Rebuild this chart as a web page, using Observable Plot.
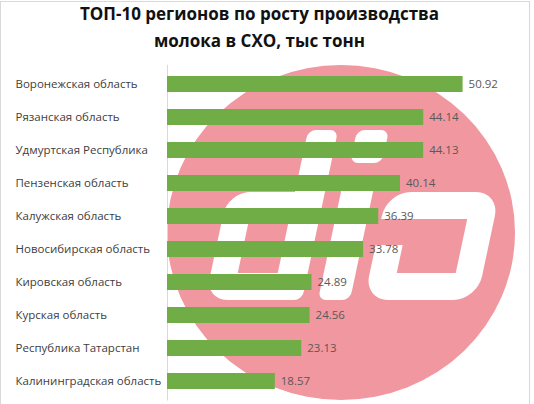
<!DOCTYPE html>
<html><head><meta charset="utf-8">
<script src="https://cdn.jsdelivr.net/npm/d3@7"></script>
<script src="https://cdn.jsdelivr.net/npm/@observablehq/plot@0.6"></script>
<style>
  html,body{margin:0;padding:0;background:#fff;width:534px;height:404px;overflow:hidden;}
  #frame{position:absolute;left:0;top:1px;width:528px;height:420px;border:1px solid #D9D9D9;box-sizing:content-box;}
  #wm{position:absolute;left:167px;top:65px;width:348px;height:335px;border-radius:50%;background:#F1979F;overflow:hidden;}
  .g{position:absolute;transform:skewX(-12deg);transform-origin:0 100%;box-sizing:border-box;}
  .solid{background:#fff;border-radius:8px;}
  .ring{border:27px solid #fff;border-radius:22px;}
  #notch{position:absolute;left:-28px;top:0;width:30px;height:26px;background:#F1979F;}
  #title{position:absolute;left:0;top:0;width:519px;text-align:center;font-family:"Open Sans",sans-serif;font-weight:bold;font-size:17px;line-height:27px;padding-top:0px;color:#111;}
  #chart{position:absolute;left:0;top:56px;}
  #chart svg{max-width:none;}
</style></head>
<body>
<div id="frame"></div>
<div id="wm">
  <div class="g ring" style="left:38px;top:127px;width:95px;height:108px;"></div>
  <div class="g solid" style="left:105px;top:65px;width:30px;height:170px;"></div>
  <div class="g solid" style="left:183px;top:65px;width:32px;height:33px;"></div>
  <div class="g solid" style="left:151px;top:117px;width:32px;height:118px;"></div>
  <div class="g ring" style="left:197px;top:127px;width:113px;height:108px;border-radius:24px;"><div id="notch"></div></div>
</div>
<div id="title">ТОП-10 регионов по росту производства<br>молока в СХО, тыс тонн</div>
<div id="chart"></div>
<script>
const regions = ["Воронежская область","Рязанская область","Удмуртская Республика","Пензенская область","Калужская область","Новосибирская область","Кировская область","Курская область","Республика Татарстан","Калининградская область"];
const values = [50.92,44.14,44.13,40.14,36.39,33.78,24.89,24.56,23.13,18.57];
const data = regions.map((r,i)=>({region:r, value:values[i]}));

const plot = Plot.plot({
  width: 534,
  height: 348,
  marginLeft: 167,
  marginRight: 18.7,
  marginTop: 8.9,
  marginBottom: 3.5,
  style: {background: "transparent", fontFamily: "'Open Sans', sans-serif"},
  x: {domain: [0, 60], axis: null},
  y: {domain: regions, paddingInner: 0.523, paddingOuter: 0.2616, label: null},
  marks: [
    Plot.ruleX([0], {stroke: "#D9D9D9", strokeWidth: 1}),
    Plot.barX(data, {x: "value", y: "region", fill: "#70AD47"}),
    Plot.text(data, {x: "value", y: "region", text: d => d.value.toFixed(2), textAnchor: "start", dx: 5.5, fill: "#595959", fontSize: 11.5}),
    Plot.axisY({tickSize: 0, tickPadding: 152, textAnchor: "start", fontSize: 11.5, fill: "#404040", label: null})
  ]
});
document.getElementById("chart").appendChild(plot);
</script>
</body></html>
